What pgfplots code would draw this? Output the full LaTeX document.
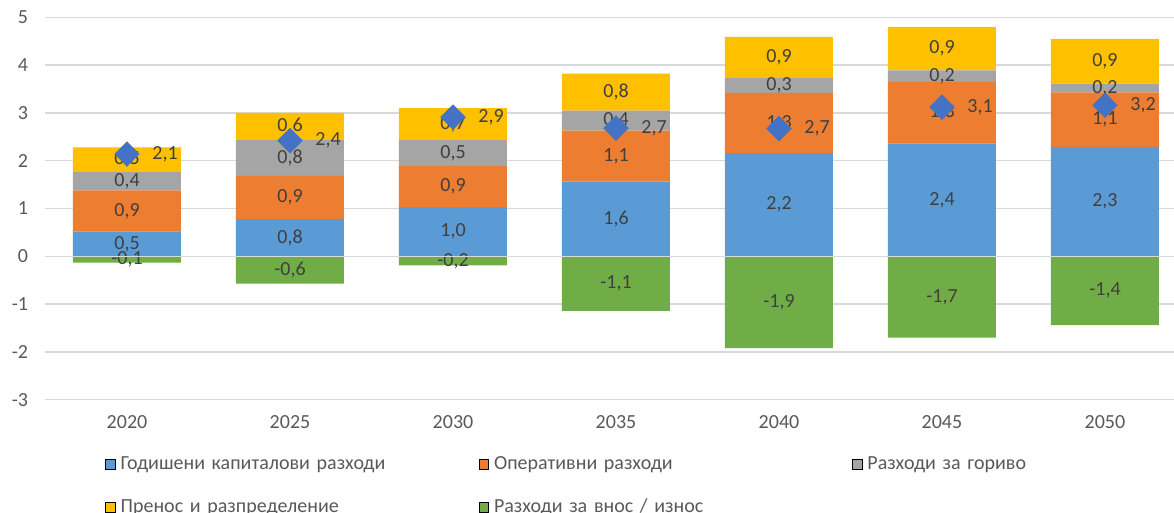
\documentclass[border=0pt]{standalone}
\usepackage{fontspec}
\setmainfont{Carlito}
\usepackage{pgfplots}
\pgfplotsset{compat=1.18}

\definecolor{cBlue}{HTML}{5B9BD5}
\definecolor{cOrange}{HTML}{ED7D31}
\definecolor{cGray}{HTML}{A5A5A5}
\definecolor{cYellow}{HTML}{FFC000}
\definecolor{cGreen}{HTML}{70AD47}
\definecolor{cDiamond}{HTML}{4472C4}
\definecolor{labelgray}{HTML}{404040}
\definecolor{tickgray}{HTML}{595959}
\definecolor{gridgray}{HTML}{D9D9D9}

\pgfplotsset{
  base/.style={
    scale only axis, width=570.5pt, height=191.2pt,
    xmin=-0.5, xmax=6.5, ymin=-3, ymax=5, enlargelimits=false,
    at={(0pt,0pt)}, anchor=south west,
  },
  lbl/.style={
    nodes near coords={\pgfmathprintnumber[fixed,fixed zerofill,precision=1,use comma,assume math mode=true]{\pgfplotspointmeta}},
  },
}

\begin{document}
\begin{tikzpicture}[font=\fontsize{10}{12}\selectfont]
\begin{axis}[base, ybar stacked, bar width=54pt,
  axis line style={draw=none}, major tick length=0pt,
  ytick={-3,...,5}, yticklabels={-3,-2,-1,0,1,2,3,4,5},
  ymajorgrids, major grid style={draw=gridgray, line width=0.75pt},
  xtick={0,...,6}, xticklabels={2020,2025,2030,2035,2040,2045,2050},
  ticklabel style={text=tickgray, font=\fontsize{10}{12}\selectfont},
  yticklabel style={anchor=east, inner sep=0pt, xshift=-8.5pt},
  xticklabel style={anchor=center, inner sep=0pt, yshift=-11pt},
  point meta=rawy,
  every node near coord/.append style={anchor=center, inner sep=0pt,
    text=labelgray, font=\fontsize{10}{12}\selectfont},
  legend columns=3,
  legend image code/.code={\fill[#1] (0pt,-2.4pt) rectangle (4.8pt,2.4pt);
    \path[draw=none, fill=none] (0pt,0pt) rectangle (7.5pt,0.1pt);},
  legend style={draw=none, fill=none, at={(0.052,-0.145)}, anchor=north west,
    inner sep=0pt, row sep=12.5pt, text=tickgray,
    font=\fontsize{10}{12}\selectfont,
    nodes={text width=179pt, align=left, inner sep=0pt, text height=7pt, text depth=2pt}},
]
% negative values are stacked below zero on their own
\addplot[fill=cGreen, draw=none, lbl, forget plot] coordinates {
  (0,-0.13) (1,-0.57) (2,-0.19) (3,-1.14) (4,-1.92) (5,-1.70) (6,-1.44)};
\addplot[fill=cBlue, draw=none, lbl, forget plot] coordinates {
  (0,0.52) (1,0.78) (2,1.03) (3,1.56) (4,2.16) (5,2.36) (6,2.29)};
\addplot[fill=cOrange, draw=none, lbl, forget plot] coordinates {
  (0,0.86) (1,0.90) (2,0.86) (3,1.07) (4,1.26) (5,1.29) (6,1.14)};
\addplot[fill=cGray, draw=none, lbl, forget plot] coordinates {
  (0,0.38) (1,0.75) (2,0.54) (3,0.42) (4,0.31) (5,0.24) (6,0.18)};
\addplot[fill=cYellow, draw=none, lbl, forget plot] coordinates {
  (0,0.52) (1,0.57) (2,0.67) (3,0.77) (4,0.86) (5,0.91) (6,0.94)};

\addlegendimage{fill=cBlue}
\addlegendentry{Годишени капиталови разходи}
\addlegendimage{fill=cOrange}
\addlegendentry{Оперативни разходи}
\addlegendimage{fill=cGray}
\addlegendentry{Разходи за гориво}
\addlegendimage{fill=cYellow}
\addlegendentry{Пренос и разпределение}
\addlegendimage{fill=cGreen}
\addlegendentry{Разходи за внос / износ}
\end{axis}

\begin{axis}[base, hide axis,
  nodes near coords={\pgfmathprintnumber[fixed,fixed zerofill,precision=1,use comma,assume math mode=true]{\pgfplotspointmeta}},
  every node near coord/.append style={anchor=west, inner sep=0pt, xshift=12.5pt,
    text=labelgray, font=\fontsize{10}{12}\selectfont},
]
\draw[gridgray, line width=0.75pt] (axis cs:-0.5,0) -- (axis cs:6.5,0);
\addplot[only marks, mark=square*, mark size=4.3pt,
  mark options={rotate=45, fill=cDiamond, draw=cDiamond}] coordinates {
  (0,2.14) (1,2.42) (2,2.91) (3,2.68) (4,2.67) (5,3.12) (6,3.16)};
\end{axis}

\pgfresetboundingbox
\path[use as bounding box] (-22.75pt,-56.65pt) rectangle (564.25pt,199.85pt);
\end{tikzpicture}
\end{document}
